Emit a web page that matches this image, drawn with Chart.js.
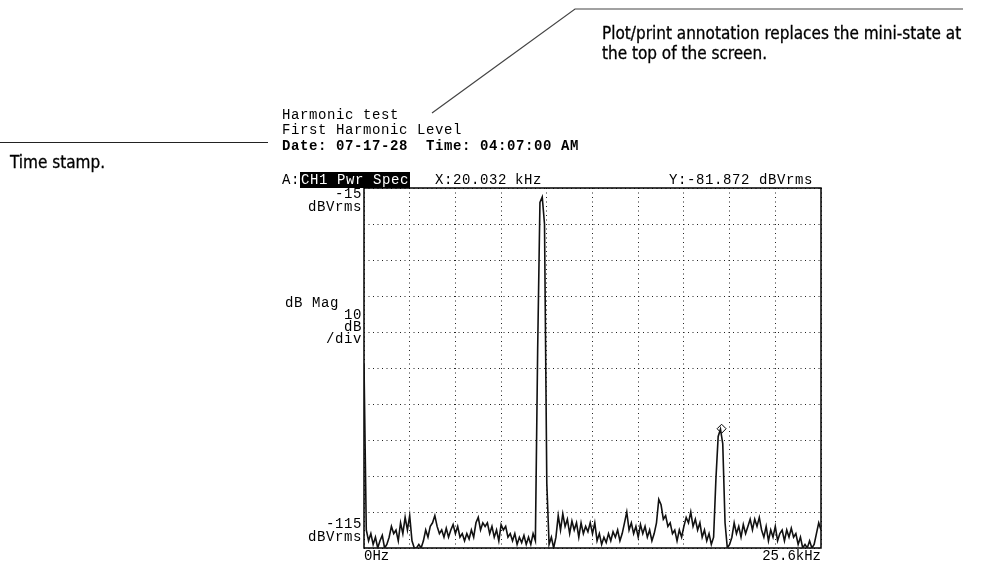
<!DOCTYPE html>
<html>
<head>
<meta charset="utf-8">
<script src="https://cdn.jsdelivr.net/npm/chart.js@4.4.1/dist/chart.umd.min.js"></script>
<style>
  html, body { margin: 0; padding: 0; background: #fff; }
  #wrap { position: relative; width: 983px; height: 565px; overflow: hidden; }
  #wrap canvas { position: absolute; left: 0; top: 0; }
  #leaders { position: absolute; left: 0; top: 0; }
  .t {
    position: absolute; white-space: pre; color: #000;
    font-family: "Liberation Mono", "DejaVu Sans Mono", monospace;
    font-size: 14px; letter-spacing: 0.6px; line-height: 12px;
  }
  .b { font-weight: bold; }
  .inv { background: #000; color: #fff; padding: 0 1px; }
  .note {
    position: absolute; white-space: pre; color: #000;
    font-family: "Liberation Sans Narrow", "DejaVu Sans Condensed", sans-serif;
    font-size: 17px; line-height: 20px; -webkit-text-stroke: 0.3px #000;
  }
</style>
</head>
<body>
<div id="wrap">
  <canvas id="spec" width="983" height="565"></canvas>
  <svg id="leaders" width="983" height="565">
    <polyline points="432,113 575,9 963,9" fill="none" stroke="#444" stroke-width="1.2"/>
    <line x1="0" y1="142.5" x2="268" y2="142.5" stroke="#222" stroke-width="1.2"/>
  </svg>

  <div class="note" style="left:602px; top:23px;">Plot/print annotation replaces the mini-state at</div>
  <div class="note" style="left:602px; top:43px;">the top of the screen.</div>
  <div class="note" style="left:10px; top:152px;">Time stamp.</div>

  <div class="t" style="left:282px; top:109px;">Harmonic test</div>
  <div class="t" style="left:282px; top:124px;">First Harmonic Level</div>
  <div class="t b" style="left:282px; top:140px;">Date: 07-17-28  Time: 04:07:00 AM</div>

  <div class="t" style="left:282px; top:174px;">A:<span class="inv">CH1 Pwr Spec</span></div>
  <div class="t" style="left:435px; top:174px;">X:20.032</div>
  <div class="t" style="left:515px; top:174px;">kHz</div>
  <div class="t" style="right:170px; top:174px; text-align:right;">Y:-81.872 dBVrms</div>

  <div class="t" style="right:621px; top:188px; text-align:right;">-15</div>
  <div class="t" style="right:621px; top:201px; text-align:right;">dBVrms</div>
  <div class="t" style="left:285px; top:297px;">dB Mag</div>
  <div class="t" style="right:621px; top:309px; text-align:right;">10<br>dB<br>/div</div>
  <div class="t" style="right:621px; top:518px; text-align:right;">-115</div>
  <div class="t" style="right:621px; top:531px; text-align:right;">dBVrms</div>
</div>

<script>
// trace: 201 bins, 128 Hz apart, 0 Hz .. 25.6 kHz (dBVrms)
const FREQ_STEP_HZ = 128;
const levelDb = [
  -64, -110, -113, -111, -114, -112, -115, -113, -111.5, -115,
  -114, -112, -109, -111, -110, -113, -108, -111, -106.5, -110,
  -106, -113, -115, -115, -114, -115, -113, -110, -112, -109,
  -108, -106, -109, -111, -110, -112, -109.5, -112, -110, -108.5,
  -111, -109, -112, -111, -113, -111, -112.5, -110, -112, -108,
  -106.5, -110, -108, -109, -108, -111, -109, -112, -110, -113,
  -108.5, -110, -109, -112, -111, -113, -111, -114, -112, -113.5,
  -111.5, -114, -112, -114, -111, -113, -60, -19, -17.5, -25,
  -97, -114, -112, -115, -112, -106, -110, -105.5, -109, -107,
  -111, -107.5, -110, -108, -112, -108, -111, -109, -110.5, -108,
  -111, -108, -113, -111, -114, -112, -113.5, -111, -113, -110.5,
  -112, -110, -113, -111, -108, -105, -110, -108, -111, -109,
  -112, -108.5, -111, -109, -112, -110, -113, -111, -108, -101.5,
  -103, -107, -106, -109, -108, -111, -110, -113, -110, -112,
  -109, -106.5, -108, -105, -109, -107, -110, -108, -112, -110,
  -113, -111, -114, -112, -96, -84, -82, -86, -108, -115,
  -114, -112, -108, -111, -109, -112, -108.5, -111, -109, -107,
  -110, -107, -109, -106.5, -110, -112, -109, -113, -110, -112,
  -109, -113, -111, -110, -113, -110, -112, -109.5, -112, -111,
  -114, -112, -115, -114, -115, -113, -115, -114, -111, -108,
  -110,
];

// marker readout
const markerHz = [20032];
const markerDb = [-81.872];

// axes
const spanHz = [0, 25600];
const xDivHz = 2560;
const yRangeDb = [-115, -15];
const yDivDb = 10;
const xEndLabels = ["0Hz", "25.6kHz"];

const MONO = '"Liberation Mono", "DejaVu Sans Mono", monospace';

const framePlugin = {
  id: "frame",
  beforeDatasetsDraw(chart) {
    const { ctx, chartArea: a } = chart;
    ctx.save();
    ctx.strokeStyle = "#000";
    ctx.lineWidth = 1.5;
    ctx.strokeRect(a.left, a.top, a.right - a.left, a.bottom - a.top);
    ctx.restore();
  },
};

const trace = levelDb.map((v, i) => ({ x: i * FREQ_STEP_HZ, y: v }));
const marker = markerHz.map((f, i) => ({ x: f, y: markerDb[i] }));

new Chart(document.getElementById("spec"), {
  type: "line",
  data: {
    datasets: [
      {
        data: trace,
        borderColor: "#111",
        borderWidth: 1.6,
        pointRadius: 0,
        tension: 0,
      },
      {
        data: marker,
        showLine: false,
        pointStyle: "rectRot",
        pointRadius: 4.5,
        pointBorderWidth: 1,
        pointBorderColor: "#000",
        pointBackgroundColor: "rgba(0,0,0,0)",
      },
    ],
  },
  options: {
    responsive: false,
    animation: false,
    events: [],
    layout: { padding: { left: 364, top: 188, right: 162, bottom: 0 } },
    plugins: { legend: { display: false }, tooltip: { enabled: false } },
    scales: {
      x: {
        type: "linear",
        min: spanHz[0],
        max: spanHz[1],
        afterFit: (s) => { s.height = 17; },
        border: { display: false, dash: [1, 3.5] },
        grid: { color: "#222", lineWidth: 1, drawTicks: false },
        ticks: {
          stepSize: xDivHz,
          autoSkip: false,
          maxRotation: 0,
          align: "inner",
          padding: 0,
          color: "#000",
          font: { family: MONO, size: 14 },
          callback: (v, i, ticks) =>
            i === 0 ? xEndLabels[0] : i === ticks.length - 1 ? xEndLabels[1] : "",
        },
      },
      y: {
        min: yRangeDb[0],
        max: yRangeDb[1],
        afterFit: (s) => { s.width = 0; },
        border: { display: false, dash: [1, 3.5] },
        grid: { color: "#222", lineWidth: 1, drawTicks: false },
        ticks: { stepSize: yDivDb, display: false },
      },
    },
  },
  plugins: [framePlugin],
});
</script>
</body>
</html>
